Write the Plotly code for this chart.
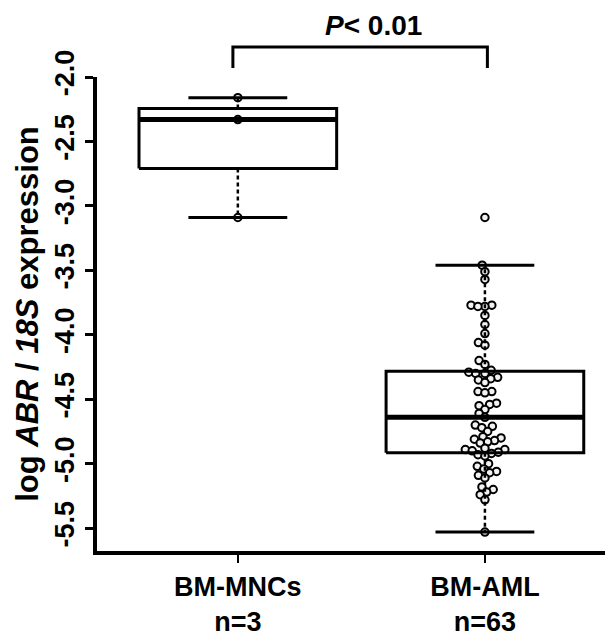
import numpy as np
import plotly.graph_objects as go

categories = ["BM-MNCs", "BM-AML"]
counts = ["n=3", "n=63"]
mnc_values = [-2.16, -2.33, -3.09]
aml_values = [
    -3.09, -3.46, -3.51, -3.57, -3.77, -3.77, -3.78, -3.78, -3.85, -3.92,
    -3.99, -4.06, -4.08, -4.20, -4.23,
    -4.275,
    -4.29, -4.30, -4.30, -4.33, -4.34, -4.35, -4.37, -4.44, -4.44, -4.45,
    -4.53, -4.54, -4.55, -4.58, -4.61,
    -4.64,
    -4.70, -4.71, -4.72, -4.75, -4.79, -4.80, -4.81, -4.82, -4.83, -4.84,
    -4.88, -4.89, -4.89, -4.90, -4.91,
    -4.92,
    -4.93, -4.94, -5.00, -5.02, -5.04, -5.06, -5.07, -5.09, -5.11, -5.18,
    -5.20, -5.22, -5.24, -5.28,
    -5.53,
]
y_ticks = [-2.0, -2.5, -3.0, -3.5, -4.0, -4.5, -5.0, -5.5]
p_label = "<i>P</i>< 0.01"

W, H = 605, 639
ML, MR, MT, MB = 97, 0, 77, 88
X_RANGE = [0.43, 2.486]
Y_RANGE = [-5.677, -2.0]
px_per_x = (W - ML - MR) / (X_RANGE[1] - X_RANGE[0])
px_per_y = (H - MT - MB) / (Y_RANGE[1] - Y_RANGE[0])

FONT = "Liberation Sans, Arial, sans-serif"


def fivenum(v):
    x = np.sort(np.asarray(v, dtype=float))
    n = len(x)
    n4 = np.floor((n + 3) / 2) / 2
    d = np.array([1, n4, (n + 1) / 2, n + 1 - n4, n]) - 1
    return 0.5 * (x[np.floor(d).astype(int)] + x[np.ceil(d).astype(int)])


def box_stats(v):
    mn, lh, med, uh, mx = fivenum(v)
    iqr = uh - lh
    arr = np.asarray(v)
    lo = arr[arr >= lh - 1.5 * iqr].min()
    hi = arr[arr <= uh + 1.5 * iqr].max()
    return lo, lh, med, uh, hi


def swarm(vals, dpx):
    y = np.asarray(vals) * px_per_y
    order = np.argsort(y)
    xs = np.zeros(len(y))
    placed = []
    for i in order:
        yp = y[i]
        cands = [0.0]
        for xj, yj in placed:
            dy = yp - yj
            if abs(dy) < dpx:
                dx = np.sqrt(dpx ** 2 - dy ** 2)
                cands += [xj + dx, xj - dx]
        valid = [c for c in cands
                 if all((c - xj) ** 2 + (yp - yj) ** 2 >= dpx ** 2 - 1e-6 for xj, yj in placed)]
        best = min(valid, key=lambda c: (abs(c), c))
        xs[i] = best
        placed.append((best, yp))
    return xs / px_per_x


fig = go.Figure()
groups = [mnc_values, aml_values]
half_w = 0.4

# points first (box drawn on top, as in the reference)
for k, vals in enumerate(groups):
    c = k + 1
    offs = swarm(vals, 7.0)
    fig.add_trace(go.Scatter(x=c + offs, y=vals, mode="markers",
                             marker=dict(size=7.5, color="#f2f2f2",
                                         line=dict(color="black", width=2)),
                             showlegend=False, hoverinfo="skip"))

for k, vals in enumerate(groups):
    c = k + 1
    lo, q1, med, q3, hi = box_stats(vals)
    for a, b in [(q3, hi), (q1, lo)]:
        fig.add_trace(go.Scatter(x=[c, c], y=[a, b], mode="lines",
                                 line=dict(color="black", width=2.5, dash="4px,3px"),
                                 showlegend=False, hoverinfo="skip"))
    for v in [hi, lo]:
        fig.add_trace(go.Scatter(x=[c - half_w / 2, c + half_w / 2], y=[v, v], mode="lines",
                                 line=dict(color="black", width=3),
                                 showlegend=False, hoverinfo="skip"))
    fig.add_trace(go.Scatter(x=[c - half_w, c + half_w, c + half_w, c - half_w, c - half_w],
                             y=[q1, q1, q3, q3, q1], mode="lines",
                             line=dict(color="black", width=3),
                             showlegend=False, hoverinfo="skip"))
    fig.add_trace(go.Scatter(x=[c - half_w, c + half_w], y=[med, med], mode="lines",
                             line=dict(color="black", width=5),
                             showlegend=False, hoverinfo="skip"))


def xp(v):
    return (v - X_RANGE[0]) / (X_RANGE[1] - X_RANGE[0])


PH = H - MT - MB
yb_top = 1 + (MT - 47) / PH
yb_bot = 1 + (MT - 68) / PH
xl, xr = xp(0.98), xp(2.01)
fig.add_shape(type="path", xref="paper", yref="paper",
              path=f"M {xl} {yb_bot} L {xl} {yb_top} L {xr} {yb_top} L {xr} {yb_bot}",
              line=dict(color="black", width=3))
fig.add_annotation(x=(xl + xr) / 2 + 13 / (W - ML - MR), y=1 + (MT - 25) / PH,
                   xref="paper", yref="paper",
                   text=p_label, showarrow=False, xanchor="center", yanchor="middle",
                   font=dict(family=FONT, size=28, color="black", weight="bold"))

fig.update_layout(
    width=W, height=H,
    margin=dict(l=ML, r=MR, t=MT, b=MB, autoexpand=False),
    paper_bgcolor="white", plot_bgcolor="white",
    font=dict(family=FONT, color="black"),
    xaxis=dict(range=X_RANGE, tickvals=[1, 2],
               ticktext=[f"{a}<br>{b}" for a, b in zip(categories, counts)],
               showline=True, linecolor="black", linewidth=3.5,
               ticks="outside", ticklen=8, tickwidth=2, tickcolor="black",
               ticklabelstandoff=1, automargin=False,
               showgrid=False, zeroline=False,
               tickfont=dict(family=FONT, size=27, color="black", weight="bold")),
    yaxis=dict(range=Y_RANGE, tickvals=y_ticks, ticktext=[f"{t:.1f}" for t in y_ticks],
               tickangle=-90, automargin=False,
               showline=True, linecolor="black", linewidth=3.5,
               ticks="outside", ticklen=8, tickwidth=3, tickcolor="black",
               showgrid=False, zeroline=False,
               tickfont=dict(family=FONT, size=27, color="black", weight="bold"),
               title=dict(text="log <i>ABR</i> / <i>18S</i> expression",
                          font=dict(family=FONT, size=31, color="black", weight="bold"),
                          standoff=4)),
)

fig.write_html("out.html")
